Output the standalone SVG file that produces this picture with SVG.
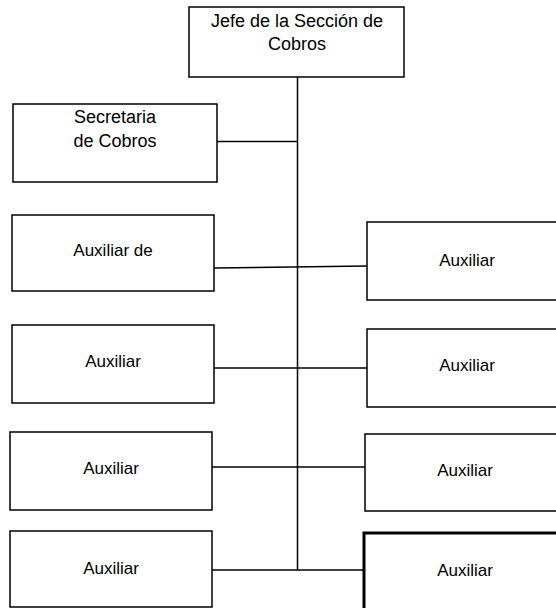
<svg xmlns="http://www.w3.org/2000/svg" width="556" height="608" viewBox="0 0 556 608">
<style>
.box{fill:#fff;stroke:#000;stroke-width:1.5}
.thick{fill:#fff;stroke:#000;stroke-width:3}
.t{font-family:"Liberation Sans",Arial,sans-serif;font-size:17px;fill:#000;text-anchor:middle}
.t18{font-size:18px}
.c{stroke:#000;stroke-width:1.5;fill:none}
</style>
<rect width="556" height="608" fill="#fff"/>
<g id="connectors">
<line class="c" x1="297.5" y1="77" x2="297.5" y2="570"/>
<line class="c" x1="217" y1="141.5" x2="297.5" y2="141.5"/>
<line class="c" x1="214" y1="268" x2="367" y2="266"/>
<line class="c" x1="214" y1="368" x2="367" y2="368"/>
<line class="c" x1="212" y1="467" x2="365" y2="467"/>
<line class="c" x1="212" y1="570" x2="364" y2="570"/>
</g>
<g id="jefe">
<rect class="box" x="189" y="7" width="215" height="70"/>
<text class="t t18" x="297" y="27">Jefe de la Sección de</text>
<text class="t t18" x="297" y="50">Cobros</text>
</g>
<g id="secretaria">
<rect class="box" x="13" y="104" width="204" height="78"/>
<text class="t t18" x="115" y="123">Secretaria</text>
<text class="t t18" x="115" y="147">de Cobros</text>
</g>
<g id="aux-l1">
<rect class="box" x="12" y="215" width="202" height="76"/>
<text class="t" x="113" y="256">Auxiliar de</text>
</g>
<g id="aux-r1">
<rect class="box" x="367" y="222" width="200" height="78"/>
<text class="t" x="467" y="266">Auxiliar</text>
</g>
<g id="aux-l2">
<rect class="box" x="12" y="325" width="202" height="78"/>
<text class="t" x="113" y="367">Auxiliar</text>
</g>
<g id="aux-r2">
<rect class="box" x="367" y="329" width="200" height="78"/>
<text class="t" x="467" y="371">Auxiliar</text>
</g>
<g id="aux-l3">
<rect class="box" x="10" y="432" width="202" height="78"/>
<text class="t" x="111" y="474">Auxiliar</text>
</g>
<g id="aux-r3">
<rect class="box" x="365" y="434" width="200" height="77"/>
<text class="t" x="465" y="476">Auxiliar</text>
</g>
<g id="aux-l4">
<rect class="box" x="10" y="531" width="202" height="76"/>
<text class="t" x="111" y="574">Auxiliar</text>
</g>
<g id="aux-r4">
<rect class="thick" x="364" y="533" width="200" height="90"/>
<text class="t" x="465" y="576">Auxiliar</text>
</g>
</svg>
